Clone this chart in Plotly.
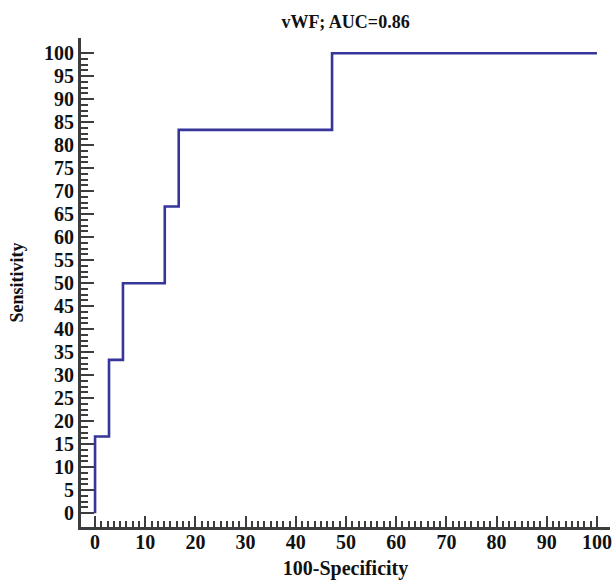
import numpy as np
import plotly.graph_objects as go

# ROC data (100-Specificity vs Sensitivity)
fpr = [0, 0, 2.78, 5.56, 13.89, 16.67, 47.22, 100]
tpr = [0, 16.67, 33.33, 50, 66.67, 83.33, 100, 100]

x_tickvals = list(range(0, 101, 5))
x_ticktext = [str(v) if v % 10 == 0 else "" for v in x_tickvals]
y_tickvals = list(range(0, 101, 5))
y_ticktext = [str(v) for v in y_tickvals]
minor_vals = [float(v) for v in np.arange(0, 100.01, 1.25)]

title_text = "vWF; AUC=0.86"
x_title = "100-Specificity"
y_title = "Sensitivity"

AX = "#3d3d3d"
FONT = "Liberation Serif"
W, H = 614, 580

fig = go.Figure()
fig.add_trace(go.Scatter(
    x=fpr, y=tpr, mode="lines", line=dict(shape="hv", color="#35359a", width=2.6),
    showlegend=False, hoverinfo="skip"))

fig.update_layout(
    width=W, height=H,
    margin=dict(l=81, r=4, t=38, b=53, autoexpand=False),
    paper_bgcolor="white", plot_bgcolor="white",
    title=dict(text="<b>" + title_text + "</b>", x=0.5, xref="paper", xanchor="center",
               y=1 - 22 / H, yref="container", yanchor="middle",
               font=dict(family=FONT, size=18, color="#111")),
    font=dict(family=FONT, color="#111"),
)
fig.update_xaxes(
    range=[-2.8, 102.6], showgrid=False, zeroline=False, automargin=False,
    showline=True, linecolor=AX, linewidth=3,
    tickmode="array", tickvals=x_tickvals, ticktext=x_ticktext,
    ticks="inside", ticklen=11, tickwidth=2, tickcolor=AX,
    minor=dict(tickmode="array", tickvals=minor_vals, ticks="inside", ticklen=6, tickwidth=2, tickcolor=AX, showgrid=False),
    tickfont=dict(family=FONT, size=20, color="#111", weight="bold"),
    ticklabelstandoff=-5,
    title=dict(text="<b>" + x_title + "</b>", font=dict(family=FONT, size=20, color="#111"), standoff=10),
)
fig.update_yaxes(
    range=[-3.0, 103.3], showgrid=False, zeroline=False, automargin=False,
    showline=True, linecolor=AX, linewidth=3,
    tickmode="array", tickvals=y_tickvals, ticktext=y_ticktext,
    ticks="inside", ticklen=13, tickwidth=2, tickcolor=AX,
    minor=dict(tickmode="array", tickvals=minor_vals, ticks="inside", ticklen=7, tickwidth=2, tickcolor=AX, showgrid=False),
    tickfont=dict(family=FONT, size=20, color="#111", weight="bold"),
    ticklabelstandoff=0,
    title=dict(text="<b>" + y_title + "</b>", font=dict(family=FONT, size=18, color="#111"), standoff=16),
)

fig.write_html("out.html", config={"displayModeBar": False, "staticPlot": True},
               post_script="document.body.style.margin='0';document.documentElement.style.overflow='hidden';")
